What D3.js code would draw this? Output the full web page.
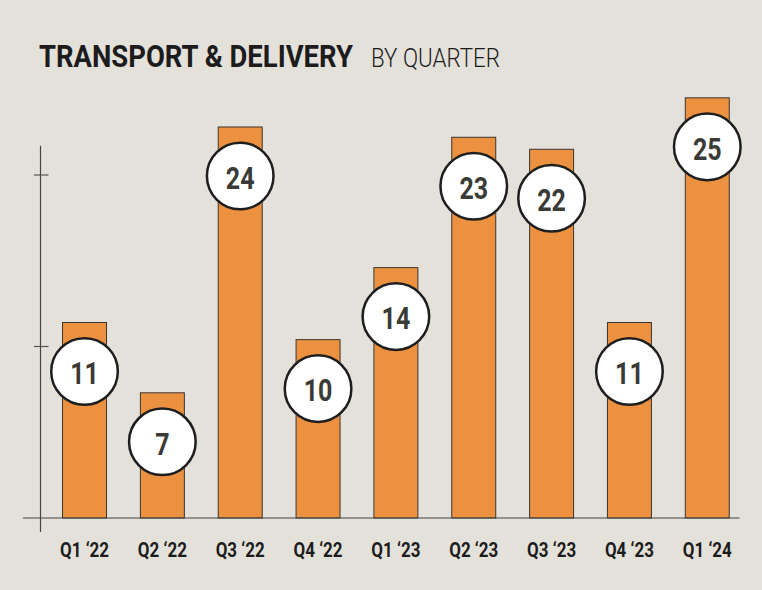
<!DOCTYPE html>
<meta charset="utf-8">
<html>
<body style="margin:0; background-color:#e4e1da;">
<script src="https://d3js.org/d3.v7.min.js"></script>

<div id="my_dataviz"></div>

<script>

    // quarters, the bar heights (in axis units) and the numbers printed in the circles
    var quarters = ["Q1 \u201822", "Q2 \u201822", "Q3 \u201822", "Q4 \u201822", "Q1 \u201823",
                    "Q2 \u201823", "Q3 \u201823", "Q4 \u201823", "Q1 \u201824"];
    var barHeights = [11.4, 7.3, 22.8, 10.4, 14.6, 22.2, 21.5, 11.4, 24.5];
    var labels = [11, 7, 24, 10, 14, 23, 22, 11, 25];
    var yTicks = [10, 20];

    var width = 762, height = 590;
    var baseY = 518, axisX = 40.5;

    var svg = d3.select("#my_dataviz")
      .append("svg")
        .attr("width", width)
        .attr("height", height)
        .style("display", "block");

    svg.append("rect")
      .attr("width", width)
      .attr("height", height)
      .attr("fill", "#e4e1da");

    var x = d3.scaleBand()
      .domain(quarters)
      .range([45.6, 746.2])
      .paddingInner(0.435)
      .paddingOuter(0.2175);

    var y = d3.scaleLinear()
      .domain([0, 20])
      .range([baseY, 175]);

    // squeeze a text horizontally so it spans the given width (no condensed font installed)
    function squeeze(sel, left, base, w) {
      var len = sel.node().getComputedTextLength();
      sel.attr("transform", "translate(" + left + "," + base + ") scale(" + (w / len) + ",1)");
    }

    // title
    var t1 = svg.append("text")
      .attr("font-family", "Roboto")
      .attr("font-weight", 700)
      .attr("font-size", "32px")
      .attr("fill", "#1c1c1c")
      .text("TRANSPORT & DELIVERY");
    squeeze(t1, 39, 67, 314);

    var t2 = svg.append("text")
      .attr("font-family", "Roboto")
      .attr("font-weight", 300)
      .attr("font-size", "26px")
      .attr("fill", "#1c1c1c")
      .text("BY QUARTER");
    squeeze(t2, 371, 67, 129);

    // y axis line with ticks crossing it
    svg.append("line")
      .attr("x1", axisX).attr("x2", axisX)
      .attr("y1", y(21.7)).attr("y2", baseY + 14)
      .attr("stroke", "#444")
      .attr("stroke-width", 1.2);

    svg.selectAll(".ytick")
      .data(yTicks)
      .enter()
      .append("line")
        .attr("class", "ytick")
        .attr("x1", axisX - 6.5)
        .attr("x2", axisX + 8)
        .attr("y1", function(d){ return y(d); })
        .attr("y2", function(d){ return y(d); })
        .attr("stroke", "#555")
        .attr("stroke-width", 1.2);

    // bars
    svg.selectAll(".bar")
      .data(quarters)
      .enter()
      .append("rect")
        .attr("class", "bar")
        .attr("x", function(d){ return x(d); })
        .attr("y", function(d, i){ return y(barHeights[i]); })
        .attr("width", x.bandwidth())
        .attr("height", function(d, i){ return baseY - y(barHeights[i]); })
        .attr("fill", "#ec9140")
        .attr("stroke", "#3a3630")
        .attr("stroke-width", 1);

    // baseline
    svg.append("line")
      .attr("x1", 23).attr("x2", 739.5)
      .attr("y1", baseY).attr("y2", baseY)
      .attr("stroke", "#444")
      .attr("stroke-width", 1.2);

    // value circles
    var bubbles = svg.selectAll(".bubble")
      .data(quarters)
      .enter()
      .append("g")
        .attr("class", "bubble")
        .attr("transform", function(d, i){
          return "translate(" + (x(d) + x.bandwidth() / 2) + "," + (y(barHeights[i]) + 49) + ")";
        });

    bubbles.append("circle")
      .attr("r", 33.3)
      .attr("fill", "#ffffff")
      .attr("stroke", "#1e1e1e")
      .attr("stroke-width", 2.5);

    bubbles.append("text")
      .attr("y", 12.8)
      .attr("text-anchor", "middle")
      .attr("transform", "scale(0.82,1)")
      .attr("font-family", "Roboto")
      .attr("font-weight", 700)
      .attr("font-size", "30.5px")
      .attr("fill", "#3a3b36")
      .text(function(d, i){ return labels[i]; });

    // quarter labels
    var xAxis = svg.append("g")
      .attr("transform", "translate(0," + baseY + ")")
      .call(d3.axisBottom(x).tickSize(0).tickPadding(0));
    xAxis.select(".domain").remove();
    xAxis.selectAll("text")
      .attr("y", 39.5)
      .attr("dy", null)
      .attr("transform", "scale(0.87,1)")
      .attr("font-family", "Roboto")
      .attr("font-weight", 700)
      .attr("font-size", "19.5px")
      .attr("fill", "#1c1c1c");

</script>
</body>
</html>
